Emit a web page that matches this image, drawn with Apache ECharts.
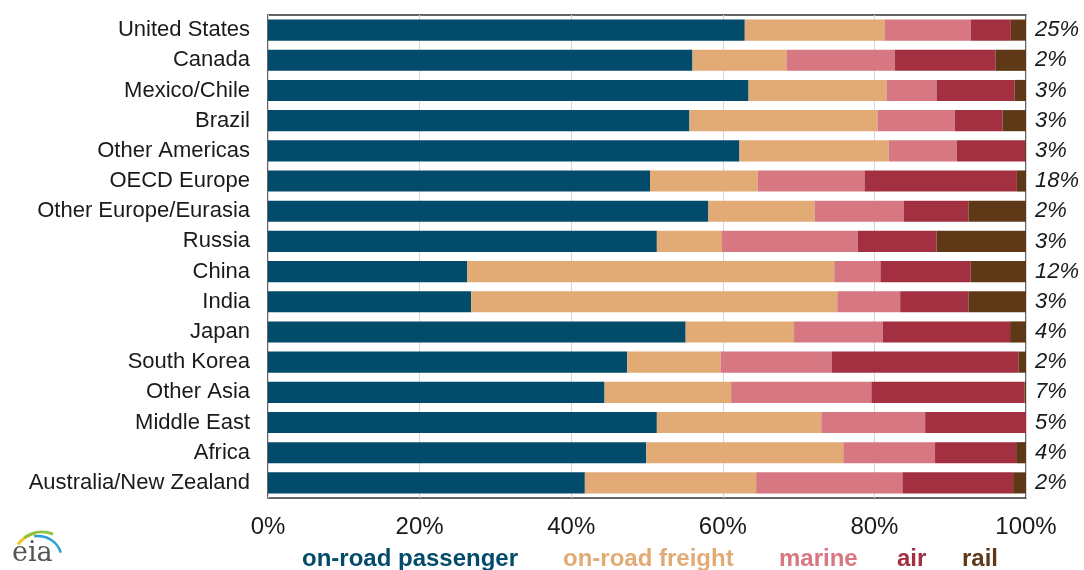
<!DOCTYPE html>
<html>
<head>
<meta charset="utf-8">
<script src="https://cdn.jsdelivr.net/npm/echarts@6/dist/echarts.min.js"></script>
<style>html,body{margin:0;padding:0;background:#fff;}#main{width:1084px;height:570px;}</style>
</head>
<body>
<div id="main"></div>
<script>
const categories = ['United States','Canada','Mexico/Chile','Brazil','Other Americas','OECD Europe','Other Europe/Eurasia','Russia','China','India','Japan','South Korea','Other Asia','Middle East','Africa','Australia/New Zealand'];
const shareLabels = ['25%','2%','3%','3%','3%','18%','2%','3%','12%','3%','4%','2%','7%','5%','4%','2%'];
const passenger = [62.9,56.0,63.4,55.6,62.2,50.4,58.1,51.3,26.3,26.8,55.1,47.4,44.4,51.3,49.9,41.8];
const freight   = [18.5,12.4,18.2,24.8,19.7,14.2,14.0, 8.6,48.4,48.3,14.3,12.3,16.7,21.7,26.0,22.6];
const marine    = [11.3,14.3, 6.6,10.2, 9.0,14.1,11.8,17.9, 6.1, 8.3,11.7,14.7,18.5,13.7,12.1,19.3];
const air       = [ 5.3,13.3,10.3, 6.3, 9.0,20.1, 8.5,10.4,11.9, 9.0,16.8,24.6,20.2,13.3,10.7,14.6];
const rail      = [ 2.0, 4.0, 1.5, 3.1, 0.1, 1.2, 7.6,11.8, 7.3, 7.6, 2.1, 1.0, 0.2, 0.0, 1.3, 1.7];
const seriesNames = ['on-road passenger','on-road freight','marine','air','rail'];
const colors = ['#034b6a','#e2aa74','#d67782','#a23041','#5e3817'];
const xTicks = [0,20,40,60,80,100];

const chart = echarts.init(document.getElementById('main'), null, {renderer:'canvas'});
const font = '"Liberation Sans", Arial, sans-serif';
const values = [passenger, freight, marine, air, rail];
const legendLeft = [297, 558, 774, 892, 957];
const option = {
  animation: false,
  color: colors,
  textStyle: {fontFamily: font},
  grid: {left: 268, right: 58, top: 15, bottom: 72, show: true, borderColor: '#333333', borderWidth: 1.5, backgroundColor: 'transparent'},
  legend: seriesNames.map((n, i) => ({
    left: legendLeft[i], top: 547, itemWidth: 0, itemHeight: 0, icon: 'rect', padding: 0,
    selectedMode: false,
    textStyle: {fontSize: 24, fontWeight: 'bold', fontFamily: font, color: colors[i]},
    data: [n]
  })),
  xAxis: {
    type: 'value', min: xTicks[0], max: xTicks[xTicks.length-1], interval: 20,
    axisLine: {show: false}, axisTick: {show: false},
    splitLine: {show: true, lineStyle: {color: '#d6d6d6', width: 1}},
    axisLabel: {formatter: '{value}%', fontSize: 24, color: '#1a1a1a', margin: 17, fontFamily: font}
  },
  yAxis: [
    {type: 'category', data: categories, inverse: true,
     axisLine: {show: false}, axisTick: {show: false},
     axisLabel: {fontSize: 22, color: '#1a1a1a', margin: 18, fontFamily: font}},
    {type: 'category', data: shareLabels, inverse: true, position: 'right',
     axisLine: {show: false}, axisTick: {show: false},
     axisLabel: {fontSize: 22, fontStyle: 'italic', color: '#1a1a1a', margin: 9, fontFamily: font}}
  ],
  series: seriesNames.map((n, i) => ({
    name: n, type: 'bar', stack: 'total', barCategoryGap: '30%',
    data: values[i], itemStyle: {color: colors[i]}
  })),
  graphic: [
    {type: 'arc', shape: {cx: 44, cy: 566, r: 34, startAngle: Math.PI*1.22, endAngle: Math.PI*1.42}, style: {stroke: '#f2c230', lineWidth: 3, fill: null}},
    {type: 'arc', shape: {cx: 42, cy: 562, r: 30, startAngle: Math.PI*1.3, endAngle: Math.PI*1.62}, style: {stroke: '#8cc43f', lineWidth: 3, fill: null}},
    {type: 'arc', shape: {cx: 38, cy: 560, r: 24, startAngle: Math.PI*1.45, endAngle: Math.PI*1.9}, style: {stroke: '#2a9fd6', lineWidth: 2.5, fill: null}},
    {type: 'text', left: 12, top: 540, style: {text: 'eia', font: '27px "DejaVu Serif", serif', fill: '#555555'}}
  ]
};
chart.setOption(option);
</script>
</body>
</html>
